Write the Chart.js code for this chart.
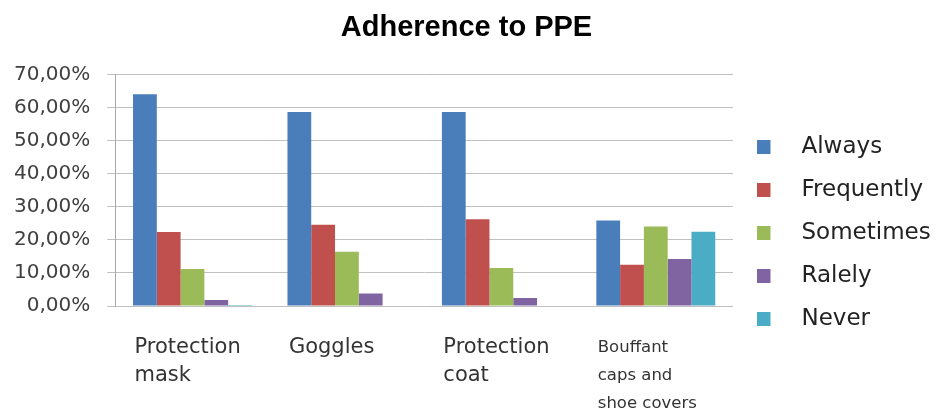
<!DOCTYPE html>
<html>
<head>
<meta charset="utf-8">
<title>Adherence to PPE</title>
<script src="https://cdn.jsdelivr.net/npm/chart.js@4/dist/chart.umd.min.js"></script>
<style>
  html, body { margin: 0; padding: 0; background: #ffffff; }
  #wrap { position: relative; width: 936px; height: 412px; }
</style>
</head>
<body>
<div id="wrap"><canvas id="chart"></canvas></div>
<script>
// Equipment categories (multi-line axis labels)
const categories = [
  ['Protection', 'mask'],
  'Goggles',
  ['Protection', 'coat'],
  ['Bouffant', 'caps and', 'shoe covers']
];

// Share of respondents (%) per answer
const always     = [64.1, 58.7, 58.7, 25.9];
const frequently = [22.4, 24.6, 26.3, 12.5];
const sometimes  = [11.2, 16.4, 11.5, 24.1];
const rarely     = [1.8, 3.8, 2.4, 14.2];
const never      = [0.3, 0, 0, 22.5];

const seriesNames  = ['Always', 'Frequently', 'Sometimes', 'Ralely', 'Never'];
const seriesColors = ['#4a7ebb', '#c0504d', '#9bbb59', '#8064a2', '#4bacc6'];

// Y axis range and step (%)
const yMin = 0;
const yMax = 70;
const yStep = 10;

const seriesValues = [always, frequently, sometimes, rarely, never];

// Small square legend swatches, drawn into offscreen canvases
const swatches = seriesColors.map(c => {
  const cv = document.createElement('canvas');
  cv.width = 30; cv.height = 14;
  const g = cv.getContext('2d');
  g.fillStyle = c;
  g.fillRect(0, 0, 14, 14);
  return cv;
});

const fmtPct = v => v.toFixed(2).replace('.', ',') + '%';

new Chart(document.getElementById('chart'), {
  type: 'bar',
  data: {
    labels: categories,
    datasets: seriesNames.map((name, i) => ({
      label: name,
      data: seriesValues[i],
      backgroundColor: seriesColors[i],
      borderWidth: 0,
      categoryPercentage: 0.77,
      barPercentage: 1.0
    }))
  },
  options: {
    responsive: true,
    maintainAspectRatio: false,
    animation: false,
    layout: { padding: { left: -3, right: 0, top: 0, bottom: -34 } },
    plugins: {
      tooltip: { enabled: false },
      title: {
        display: true,
        text: 'Adherence to PPE',
        color: '#000000',
        font: { family: 'Liberation Sans', size: 29, weight: 'bold' },
        padding: { top: 11, bottom: 29 }
      },
      legend: {
        position: 'right',
        align: 'center',
        maxWidth: 203,
        title: {
          display: true,
          text: '',
          font: { size: 10 },
          padding: { top: 8, bottom: 0 }
        },
        labels: {
          usePointStyle: true,
          pointStyleWidth: 37,
          padding: 20,
          color: '#222222',
          font: { family: 'DejaVu Sans', size: 23 },
          generateLabels(chart) {
            const items = Chart.defaults.plugins.legend.labels.generateLabels(chart);
            items.forEach(it => { it.pointStyle = swatches[it.datasetIndex]; });
            return items;
          }
        }
      }
    },
    scales: {
      x: {
        grid: { display: false, drawTicks: false },
        border: { display: false },
        ticks: {
          autoSkip: false,
          maxRotation: 0,
          minRotation: 0,
          align: 'start',
          labelOffset: -58,
          padding: 28,
          color: '#333333',
          font: ctx => ctx.index === 3
            ? { family: 'DejaVu Sans', size: 16.5, lineHeight: 28 / 16.5 }
            : { family: 'DejaVu Sans', size: 21, lineHeight: 28 / 21 }
        }
      },
      y: {
        min: yMin,
        max: yMax,
        grid: { color: '#c0c0c0', lineWidth: 1, drawTicks: true, tickLength: 8, tickColor: '#c0c0c0' },
        border: { display: true, color: '#a8a8a8', width: 1 },
        ticks: {
          stepSize: yStep,
          padding: 17,
          color: '#404040',
          font: { family: 'DejaVu Sans', size: 20 },
          callback: v => fmtPct(v)
        }
      }
    }
  }
});
</script>
</body>
</html>
